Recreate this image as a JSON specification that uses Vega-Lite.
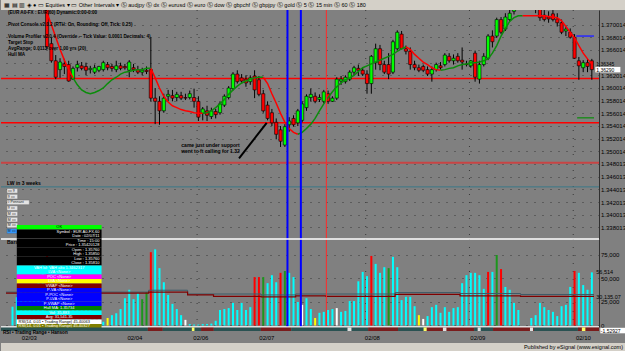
{
"$schema": "https://vega.github.io/schema/vega-lite/v6.json",
"background": "#808080",
"padding": 0,
"spacing": 0,
"bounds": "flush",
"resolve": {"scale": {"color": "independent", "fill": "independent"}},
"config": {"view": {"stroke": null}, "font": "Liberation Sans", "text": {"font": "Liberation Sans"}},
"datasets": {
"toolbar": [{"t": "▦ ▤ ▥ ◈ ●  ▭ Equities ▾  ▭ Other Intervals ▾  Ⓢ audjpy  Ⓢ dx  Ⓢ eurusd  Ⓢ euro  Ⓢ dow  Ⓢ gbpchf  Ⓢ gbpjpy  Ⓢ gold  Ⓢ 5  Ⓢ 15 min  Ⓢ 60  Ⓢ 180"}],
"status": [{"t": "Published by eSignal (www.esignal.com)"}],
"hdr": [{"ln":0,"t":"(EUR A0-FX : EUR,60) Dynamic:0:00-0:00"},{"ln":2,"t":"Pivot Console v2.0.2 (RTH: On, Rounding: Off, Tick: 0.25)"},{"ln":4,"t":"Volume Profiler v2.0.4 (Override -- Tick Value: 0.0001 Decimals: 4)"},{"ln":5,"t":"Target Stop"},{"ln":6,"t":"AvgRange: 0.0113 over 1.00 yrs (20)"},{"ln":7,"t":"Hull MA"}],
"btns": [{"b":0,"t":"▭ 9","w":"n"},{"b":1,"t":"9 ▭","w":"n"},{"b":2,"t":"◊ Pennant","w":"wide"},{"b":3,"t":"9 ▭","w":"n"},{"b":4,"t":"M ▭","w":"n"},{"b":5,"t":"M ▭","w":"n"},{"b":6,"t":"M ▭","w":"n"},{"b":7,"t":"M ▭","w":"sel"}],
"candles": [
{"i":0,"o":1.3795,"h":1.3802,"l":1.3788,"c":1.3790},{"i":1,"o":1.3790,"h":1.3800,"l":1.3785,"c":1.3797},{"i":2,"o":1.3797,"h":1.3805,"l":1.3790,"c":1.3793},{"i":3,"o":1.3793,"h":1.3799,"l":1.3786,"c":1.3795},{"i":4,"o":1.3795,"h":1.3802,"l":1.3789,"c":1.3791},{"i":5,"o":1.3791,"h":1.3796,"l":1.3780,"c":1.3784},{"i":6,"o":1.3784,"h":1.3790,"l":1.3770,"c":1.3774},{"i":7,"o":1.3774,"h":1.3782,"l":1.3760,"c":1.3765},{"i":8,"o":1.3765,"h":1.3770,"l":1.3745,"c":1.3750},{"i":9,"o":1.3750,"h":1.3755,"l":1.3661,"c":1.3665},
{"i":10,"o":1.3670,"h":1.3680,"l":1.3640,"c":1.3643},{"i":11,"o":1.3643,"h":1.3652,"l":1.3614,"c":1.3617},{"i":12,"o":1.3629,"h":1.3647,"l":1.3616,"c":1.3641},{"i":13,"o":1.3638,"h":1.3646,"l":1.3622,"c":1.3634},{"i":14,"o":1.3637,"h":1.3643,"l":1.3610,"c":1.3611},{"i":15,"o":1.3614,"h":1.3634,"l":1.3613,"c":1.3631},{"i":16,"o":1.3632,"h":1.3643,"l":1.3626,"c":1.3637},{"i":17,"o":1.3635,"h":1.3641,"l":1.3628,"c":1.3631},{"i":18,"o":1.3634,"h":1.3640,"l":1.3620,"c":1.3628},{"i":19,"o":1.3629,"h":1.3635,"l":1.3623,"c":1.3631},
{"i":20,"o":1.3625,"h":1.3637,"l":1.3622,"c":1.3632},{"i":21,"o":1.3628,"h":1.3635,"l":1.3625,"c":1.3634},{"i":22,"o":1.3629,"h":1.3643,"l":1.3626,"c":1.3640},{"i":23,"o":1.3637,"h":1.3641,"l":1.3628,"c":1.3632},{"i":24,"o":1.3634,"h":1.3638,"l":1.3626,"c":1.3631},{"i":25,"o":1.3629,"h":1.3643,"l":1.3625,"c":1.3635},{"i":26,"o":1.3635,"h":1.3640,"l":1.3628,"c":1.3631},{"i":27,"o":1.3634,"h":1.3638,"l":1.3629,"c":1.3632},{"i":28,"o":1.3628,"h":1.3644,"l":1.3617,"c":1.3641},{"i":29,"o":1.3632,"h":1.3638,"l":1.3625,"c":1.3629},
{"i":30,"o":1.3629,"h":1.3635,"l":1.3622,"c":1.3625},{"i":31,"o":1.3625,"h":1.3632,"l":1.3620,"c":1.3628},{"i":32,"o":1.3628,"h":1.3634,"l":1.3622,"c":1.3626},{"i":33,"o":1.3629,"h":1.3680,"l":1.3579,"c":1.3584},{"i":34,"o":1.3584,"h":1.3600,"l":1.3543,"c":1.3579},{"i":35,"o":1.3579,"h":1.3587,"l":1.3542,"c":1.3564},{"i":36,"o":1.3564,"h":1.3591,"l":1.3561,"c":1.3584},{"i":37,"o":1.3587,"h":1.3597,"l":1.3579,"c":1.3590},{"i":38,"o":1.3588,"h":1.3597,"l":1.3579,"c":1.3584},{"i":39,"o":1.3585,"h":1.3594,"l":1.3579,"c":1.3590},
{"i":40,"o":1.3588,"h":1.3594,"l":1.3581,"c":1.3584},{"i":41,"o":1.3585,"h":1.3591,"l":1.3581,"c":1.3584},{"i":42,"o":1.3585,"h":1.3596,"l":1.3582,"c":1.3591},{"i":43,"o":1.3585,"h":1.3599,"l":1.3569,"c":1.3579},{"i":44,"o":1.3579,"h":1.3587,"l":1.3548,"c":1.3554},{"i":45,"o":1.3560,"h":1.3570,"l":1.3549,"c":1.3567},{"i":46,"o":1.3564,"h":1.3572,"l":1.3548,"c":1.3557},{"i":47,"o":1.3555,"h":1.3569,"l":1.3551,"c":1.3564},{"i":48,"o":1.3563,"h":1.3567,"l":1.3552,"c":1.3558},{"i":49,"o":1.3561,"h":1.3579,"l":1.3558,"c":1.3575},
{"i":50,"o":1.3573,"h":1.3590,"l":1.3570,"c":1.3587},{"i":51,"o":1.3585,"h":1.3603,"l":1.3582,"c":1.3600},{"i":52,"o":1.3599,"h":1.3625,"l":1.3596,"c":1.3622},{"i":53,"o":1.3622,"h":1.3628,"l":1.3607,"c":1.3610},{"i":54,"o":1.3616,"h":1.3622,"l":1.3607,"c":1.3611},{"i":55,"o":1.3614,"h":1.3620,"l":1.3602,"c":1.3608},{"i":56,"o":1.3610,"h":1.3620,"l":1.3605,"c":1.3616},{"i":57,"o":1.3619,"h":1.3628,"l":1.3584,"c":1.3597},{"i":58,"o":1.3613,"h":1.3619,"l":1.3587,"c":1.3590},{"i":59,"o":1.3591,"h":1.3597,"l":1.3561,"c":1.3564},
{"i":60,"o":1.3573,"h":1.3579,"l":1.3549,"c":1.3552},{"i":61,"o":1.3561,"h":1.3567,"l":1.3540,"c":1.3545},{"i":62,"o":1.3546,"h":1.3552,"l":1.3519,"c":1.3527},{"i":63,"o":1.3534,"h":1.3540,"l":1.3507,"c":1.3516},{"i":64,"o":1.3510,"h":1.3543,"l":1.3507,"c":1.3539},{"i":65,"o":1.3542,"h":1.3554,"l":1.3531,"c":1.3548},{"i":66,"o":1.3552,"h":1.3557,"l":1.3539,"c":1.3542},{"i":67,"o":1.3545,"h":1.3567,"l":1.3540,"c":1.3564},{"i":68,"o":1.3549,"h":1.3579,"l":1.3546,"c":1.3575},{"i":69,"o":1.3569,"h":1.3590,"l":1.3564,"c":1.3587},
{"i":70,"o":1.3585,"h":1.3599,"l":1.3579,"c":1.3590},{"i":71,"o":1.3587,"h":1.3593,"l":1.3576,"c":1.3579},{"i":72,"o":1.3582,"h":1.3590,"l":1.3578,"c":1.3585},{"i":73,"o":1.3579,"h":1.3597,"l":1.3576,"c":1.3594},{"i":74,"o":1.3591,"h":1.3596,"l":1.3575,"c":1.3579},{"i":75,"o":1.3579,"h":1.3587,"l":1.3578,"c":1.3584},{"i":76,"o":1.3584,"h":1.3617,"l":1.3581,"c":1.3614},{"i":77,"o":1.3611,"h":1.3619,"l":1.3605,"c":1.3614},{"i":78,"o":1.3610,"h":1.3620,"l":1.3607,"c":1.3617},{"i":79,"o":1.3614,"h":1.3628,"l":1.3611,"c":1.3625},
{"i":80,"o":1.3625,"h":1.3635,"l":1.3620,"c":1.3632},{"i":81,"o":1.3631,"h":1.3637,"l":1.3619,"c":1.3628},{"i":82,"o":1.3628,"h":1.3632,"l":1.3619,"c":1.3622},{"i":83,"o":1.3622,"h":1.3628,"l":1.3591,"c":1.3607},{"i":84,"o":1.3607,"h":1.3652,"l":1.3591,"c":1.3650},{"i":85,"o":1.3640,"h":1.3670,"l":1.3629,"c":1.3662},{"i":86,"o":1.3662,"h":1.3668,"l":1.3628,"c":1.3637},{"i":87,"o":1.3637,"h":1.3643,"l":1.3622,"c":1.3625},{"i":88,"o":1.3637,"h":1.3655,"l":1.3614,"c":1.3622},{"i":89,"o":1.3625,"h":1.3676,"l":1.3622,"c":1.3673},
{"i":90,"o":1.3662,"h":1.3691,"l":1.3659,"c":1.3688},{"i":91,"o":1.3685,"h":1.3690,"l":1.3661,"c":1.3662},{"i":92,"o":1.3662,"h":1.3667,"l":1.3653,"c":1.3658},{"i":93,"o":1.3658,"h":1.3664,"l":1.3629,"c":1.3637},{"i":94,"o":1.3637,"h":1.3643,"l":1.3628,"c":1.3632},{"i":95,"o":1.3632,"h":1.3637,"l":1.3625,"c":1.3628},{"i":96,"o":1.3634,"h":1.3637,"l":1.3625,"c":1.3628},{"i":97,"o":1.3629,"h":1.3634,"l":1.3619,"c":1.3622},{"i":98,"o":1.3622,"h":1.3634,"l":1.3610,"c":1.3629},{"i":99,"o":1.3629,"h":1.3640,"l":1.3626,"c":1.3637},
{"i":100,"o":1.3635,"h":1.3641,"l":1.3629,"c":1.3632},{"i":101,"o":1.3637,"h":1.3655,"l":1.3634,"c":1.3652},{"i":102,"o":1.3650,"h":1.3655,"l":1.3640,"c":1.3643},{"i":103,"o":1.3643,"h":1.3653,"l":1.3637,"c":1.3647},{"i":104,"o":1.3650,"h":1.3655,"l":1.3640,"c":1.3643},{"i":105,"o":1.3644,"h":1.3664,"l":1.3629,"c":1.3641},{"i":106,"o":1.3638,"h":1.3643,"l":1.3634,"c":1.3637},{"i":107,"o":1.3635,"h":1.3644,"l":1.3632,"c":1.3643},{"i":108,"o":1.3655,"h":1.3659,"l":1.3610,"c":1.3617},{"i":109,"o":1.3614,"h":1.3643,"l":1.3607,"c":1.3637},
{"i":110,"o":1.3637,"h":1.3655,"l":1.3634,"c":1.3650},{"i":111,"o":1.3647,"h":1.3685,"l":1.3644,"c":1.3682},{"i":112,"o":1.3682,"h":1.3691,"l":1.3664,"c":1.3673},{"i":113,"o":1.3682,"h":1.3711,"l":1.3679,"c":1.3708},{"i":114,"o":1.3708,"h":1.3712,"l":1.3685,"c":1.3688},{"i":115,"o":1.3693,"h":1.3718,"l":1.3690,"c":1.3712},{"i":116,"o":1.3708,"h":1.3727,"l":1.3705,"c":1.3718},{"i":117,"o":1.3721,"h":1.3739,"l":1.3716,"c":1.3735},{"i":118,"o":1.3735,"h":1.3745,"l":1.3724,"c":1.3739},{"i":119,"o":1.3739,"h":1.3748,"l":1.3730,"c":1.3733},
{"i":120,"o":1.3735,"h":1.3745,"l":1.3727,"c":1.3742},{"i":121,"o":1.3742,"h":1.3748,"l":1.3726,"c":1.3730},{"i":122,"o":1.3730,"h":1.3738,"l":1.3718,"c":1.3726},{"i":123,"o":1.3727,"h":1.3733,"l":1.3706,"c":1.3711},{"i":124,"o":1.3715,"h":1.3723,"l":1.3705,"c":1.3708},{"i":125,"o":1.3712,"h":1.3721,"l":1.3703,"c":1.3709},{"i":126,"o":1.3717,"h":1.3723,"l":1.3705,"c":1.3708},{"i":127,"o":1.3709,"h":1.3718,"l":1.3697,"c":1.3703},{"i":128,"o":1.3703,"h":1.3708,"l":1.3685,"c":1.3688},{"i":129,"o":1.3690,"h":1.3697,"l":1.3682,"c":1.3693},
{"i":130,"o":1.3688,"h":1.3694,"l":1.3678,"c":1.3680},{"i":131,"o":1.3680,"h":1.3685,"l":1.3646,"c":1.3647},{"i":132,"o":1.3643,"h":1.3649,"l":1.3613,"c":1.3635},{"i":133,"o":1.3632,"h":1.3644,"l":1.3625,"c":1.3640},{"i":134,"o":1.3640,"h":1.3646,"l":1.3625,"c":1.3634},{"i":135,"o":1.3643,"h":1.3646,"l":1.3613,"c":1.3629}
],
"ma": [
{"i":8,"p":1.3745,"s":1,"d":"down"},{"i":9,"p":1.3718,"s":1,"d":"down"},{"i":10,"p":1.3700,"s":1,"d":"down"},{"i":11,"p":1.3680,"s":1,"d":"down"},{"i":12,"p":1.3661,"s":1,"d":"down"},{"i":13,"p":1.3644,"s":1,"d":"down"},{"i":14,"p":1.3629,"s":1,"d":"down"},{"i":15,"p":1.3616,"s":1,"d":"down"},
{"i":15,"p":1.3616,"s":2,"d":"up"},{"i":16,"p":1.3605,"s":2,"d":"up"},{"i":17,"p":1.3597,"s":2,"d":"up"},{"i":18,"p":1.3593,"s":2,"d":"up"},{"i":19,"p":1.3591,"s":2,"d":"up"},{"i":20,"p":1.3593,"s":2,"d":"up"},{"i":21,"p":1.3596,"s":2,"d":"up"},{"i":22,"p":1.3600,"s":2,"d":"up"},{"i":23,"p":1.3607,"s":2,"d":"up"},{"i":24,"p":1.3613,"s":2,"d":"up"},{"i":25,"p":1.3617,"s":2,"d":"up"},{"i":26,"p":1.3622,"s":2,"d":"up"},{"i":27,"p":1.3625,"s":2,"d":"up"},{"i":28,"p":1.3626,"s":2,"d":"up"},{"i":29,"p":1.3628,"s":2,"d":"up"},{"i":30,"p":1.3629,"s":2,"d":"up"},{"i":31,"p":1.3629,"s":2,"d":"up"},{"i":32,"p":1.3631,"s":2,"d":"up"},{"i":33,"p":1.3631,"s":2,"d":"up"},
{"i":33,"p":1.3631,"s":3,"d":"down"},{"i":34,"p":1.3616,"s":3,"d":"down"},{"i":35,"p":1.3600,"s":3,"d":"down"},{"i":36,"p":1.3587,"s":3,"d":"down"},{"i":37,"p":1.3578,"s":3,"d":"down"},{"i":38,"p":1.3572,"s":3,"d":"down"},{"i":39,"p":1.3569,"s":3,"d":"down"},{"i":40,"p":1.3566,"s":3,"d":"down"},{"i":41,"p":1.3564,"s":3,"d":"down"},{"i":42,"p":1.3563,"s":3,"d":"down"},{"i":43,"p":1.3561,"s":3,"d":"down"},{"i":44,"p":1.3560,"s":3,"d":"down"},{"i":45,"p":1.3560,"s":3,"d":"down"},
{"i":45,"p":1.3560,"s":4,"d":"up"},{"i":46,"p":1.3561,"s":4,"d":"up"},{"i":47,"p":1.3564,"s":4,"d":"up"},{"i":48,"p":1.3569,"s":4,"d":"up"},{"i":49,"p":1.3575,"s":4,"d":"up"},{"i":50,"p":1.3582,"s":4,"d":"up"},{"i":51,"p":1.3590,"s":4,"d":"up"},{"i":52,"p":1.3597,"s":4,"d":"up"},{"i":53,"p":1.3603,"s":4,"d":"up"},{"i":54,"p":1.3608,"s":4,"d":"up"},{"i":55,"p":1.3611,"s":4,"d":"up"},{"i":56,"p":1.3614,"s":4,"d":"up"},{"i":57,"p":1.3616,"s":4,"d":"up"},{"i":58,"p":1.3617,"s":4,"d":"up"},{"i":59,"p":1.3617,"s":4,"d":"up"},
{"i":59,"p":1.3617,"s":5,"d":"down"},{"i":60,"p":1.3607,"s":5,"d":"down"},{"i":61,"p":1.3591,"s":5,"d":"down"},{"i":62,"p":1.3576,"s":5,"d":"down"},{"i":63,"p":1.3560,"s":5,"d":"down"},{"i":64,"p":1.3546,"s":5,"d":"down"},{"i":65,"p":1.3536,"s":5,"d":"down"},{"i":66,"p":1.3530,"s":5,"d":"down"},{"i":67,"p":1.3527,"s":5,"d":"down"},
{"i":67,"p":1.3527,"s":6,"d":"up"},{"i":68,"p":1.3530,"s":6,"d":"up"},{"i":69,"p":1.3536,"s":6,"d":"up"},{"i":70,"p":1.3543,"s":6,"d":"up"},{"i":71,"p":1.3552,"s":6,"d":"up"},{"i":72,"p":1.3564,"s":6,"d":"up"},{"i":73,"p":1.3575,"s":6,"d":"up"},{"i":74,"p":1.3585,"s":6,"d":"up"},{"i":75,"p":1.3594,"s":6,"d":"up"},{"i":76,"p":1.3602,"s":6,"d":"up"},{"i":77,"p":1.3608,"s":6,"d":"up"},{"i":78,"p":1.3613,"s":6,"d":"up"},{"i":79,"p":1.3616,"s":6,"d":"up"},{"i":80,"p":1.3620,"s":6,"d":"up"},{"i":81,"p":1.3626,"s":6,"d":"up"},{"i":82,"p":1.3632,"s":6,"d":"up"},{"i":83,"p":1.3635,"s":6,"d":"up"},{"i":84,"p":1.3638,"s":6,"d":"up"},{"i":85,"p":1.3641,"s":6,"d":"up"},{"i":86,"p":1.3644,"s":6,"d":"up"},{"i":87,"p":1.3647,"s":6,"d":"up"},{"i":88,"p":1.3650,"s":6,"d":"up"},{"i":89,"p":1.3653,"s":6,"d":"up"},{"i":90,"p":1.3658,"s":6,"d":"up"},{"i":91,"p":1.3662,"s":6,"d":"up"},{"i":92,"p":1.3665,"s":6,"d":"up"},
{"i":92,"p":1.3665,"s":7,"d":"down"},{"i":93,"p":1.3661,"s":7,"d":"down"},{"i":94,"p":1.3653,"s":7,"d":"down"},{"i":95,"p":1.3647,"s":7,"d":"down"},{"i":96,"p":1.3641,"s":7,"d":"down"},{"i":97,"p":1.3637,"s":7,"d":"down"},{"i":98,"p":1.3632,"s":7,"d":"down"},{"i":99,"p":1.3629,"s":7,"d":"down"},{"i":100,"p":1.3628,"s":7,"d":"down"},
{"i":100,"p":1.3628,"s":8,"d":"up"},{"i":101,"p":1.3629,"s":8,"d":"up"},{"i":102,"p":1.3631,"s":8,"d":"up"},{"i":103,"p":1.3632,"s":8,"d":"up"},{"i":104,"p":1.3635,"s":8,"d":"up"},{"i":105,"p":1.3637,"s":8,"d":"up"},{"i":106,"p":1.3638,"s":8,"d":"up"},{"i":107,"p":1.3640,"s":8,"d":"up"},{"i":108,"p":1.3640,"s":8,"d":"up"},{"i":109,"p":1.3641,"s":8,"d":"up"},{"i":110,"p":1.3643,"s":8,"d":"up"},{"i":111,"p":1.3646,"s":8,"d":"up"},{"i":112,"p":1.3655,"s":8,"d":"up"},{"i":113,"p":1.3667,"s":8,"d":"up"},{"i":114,"p":1.3682,"s":8,"d":"up"},{"i":115,"p":1.3694,"s":8,"d":"up"},{"i":116,"p":1.3705,"s":8,"d":"up"},{"i":117,"p":1.3711,"s":8,"d":"up"},{"i":118,"p":1.3714,"s":8,"d":"up"},{"i":119,"p":1.3714,"s":8,"d":"up"},
{"i":119,"p":1.3714,"s":9,"d":"down"},{"i":120,"p":1.3714,"s":9,"d":"down"},{"i":121,"p":1.3714,"s":9,"d":"down"},{"i":122,"p":1.3714,"s":9,"d":"down"},{"i":123,"p":1.3714,"s":9,"d":"down"},{"i":124,"p":1.3714,"s":9,"d":"down"},{"i":125,"p":1.3713,"s":9,"d":"down"},{"i":126,"p":1.3712,"s":9,"d":"down"},{"i":127,"p":1.3711,"s":9,"d":"down"},{"i":128,"p":1.3706,"s":9,"d":"down"},{"i":129,"p":1.3697,"s":9,"d":"down"},{"i":130,"p":1.3688,"s":9,"d":"down"},{"i":131,"p":1.3679,"s":9,"d":"down"},{"i":132,"p":1.3667,"s":9,"d":"down"},{"i":133,"p":1.3655,"s":9,"d":"down"},{"i":134,"p":1.3646,"s":9,"d":"down"},{"i":135,"p":1.3638,"s":9,"d":"down"}
],
"hl": [{"p":1.3615,"k":"R1"},{"p":1.3545,"k":"S1"},{"p":1.3482,"k":"S2"},{"p":1.3444,"k":"L3W"}],
"short": [{"a":131.4,"b":135.5,"p":1.3682,"k":"hi"},{"a":131.6,"b":135.5,"p":1.3553,"k":"lo"}],
"vl": [{"i":64.6,"k":"blue"},{"i":67.7,"k":"blue"},{"i":73.6,"k":"red"}],
"vgrid": [{"i":43.7},{"i":82.7},{"i":106.7},{"i":130.7}],
"arrow": [{"i0":53.4,"p0":1.3489,"i1":59.8,"p1":1.3545}],
"notes": [{"i":46.8,"p":1.3510,"t":"came just under support"},{"i":46.8,"p":1.3501,"t":"went to ft calling for 1.32"}],
"lbl": [{"i":-0.5,"p":1.3445,"t":"LW in 3 weeks"}],
"lastp": [{"p":1.3629,"t":"1.36290"}],
"markp": [{"p":1.36345,"t":"1.36345"}],
"vol": [
{"i":1,"v":20000,"k":"c"},{"i":2,"v":30000,"k":"c"},{"i":3,"v":42000,"k":"c"},{"i":4,"v":38000,"k":"c"},{"i":5,"v":35000,"k":"c"},{"i":6,"v":40000,"k":"c"},{"i":7,"v":52000,"k":"c"},{"i":8,"v":66000,"k":"c"},{"i":9,"v":80000,"k":"r"},{"i":10,"v":70000,"k":"c"},{"i":11,"v":55000,"k":"c"},{"i":12,"v":45000,"k":"c"},{"i":13,"v":35000,"k":"c"},{"i":14,"v":32000,"k":"c"},{"i":15,"v":28000,"k":"c"},{"i":16,"v":25000,"k":"c"},{"i":17,"v":22000,"k":"c"},{"i":18,"v":20000,"k":"c"},{"i":19,"v":18000,"k":"c"},{"i":20,"v":15000,"k":"c"},{"i":21,"v":12000,"k":"c"},
{"i":22,"v":4000,"k":"c"},{"i":23,"v":8000,"k":"y"},{"i":24,"v":11000,"k":"c"},{"i":25,"v":13000,"k":"c"},{"i":26,"v":17500,"k":"c"},{"i":27,"v":29000,"k":"c"},{"i":28,"v":38000,"k":"c"},{"i":29,"v":28000,"k":"c"},{"i":30,"v":34500,"k":"c"},{"i":31,"v":28000,"k":"g"},{"i":32,"v":35500,"k":"g"},{"i":33,"v":78000,"k":"r"},{"i":34,"v":81000,"k":"c"},{"i":35,"v":61000,"k":"c"},{"i":36,"v":46000,"k":"c"},{"i":37,"v":32500,"k":"c"},{"i":38,"v":23000,"k":"c"},{"i":39,"v":17500,"k":"c"},{"i":40,"v":11000,"k":"c"},{"i":41,"v":6000,"k":"w"},
{"i":42,"v":1500,"k":"c"},{"i":43,"v":1000,"k":"c"},{"i":44,"v":1000,"k":"c"},{"i":45,"v":1500,"k":"c"},{"i":46,"v":1500,"k":"c"},{"i":47,"v":2000,"k":"c"},{"i":48,"v":5000,"k":"c"},{"i":49,"v":16500,"k":"c"},{"i":50,"v":17500,"k":"c"},{"i":51,"v":18500,"k":"c"},{"i":52,"v":24000,"k":"c"},{"i":53,"v":16500,"k":"c"},{"i":54,"v":24000,"k":"c"},{"i":55,"v":16500,"k":"c"},{"i":56,"v":19500,"k":"c"},{"i":57,"v":51500,"k":"r"},{"i":58,"v":51500,"k":"r"},{"i":59,"v":51500,"k":"g"},
{"i":60,"v":45000,"k":"c"},{"i":61,"v":53500,"k":"c"},{"i":62,"v":46000,"k":"c"},{"i":63,"v":56000,"k":"r"},{"i":64,"v":58000,"k":"g"},{"i":65,"v":56000,"k":"c"},{"i":66,"v":51500,"k":"c"},{"i":67,"v":25000,"k":"c"},{"i":68,"v":22000,"k":"w"},{"i":69,"v":29000,"k":"c"},{"i":70,"v":17500,"k":"c"},{"i":71,"v":8000,"k":"y"},{"i":72,"v":13500,"k":"c"},{"i":73,"v":14500,"k":"c"},{"i":74,"v":16500,"k":"c"},{"i":75,"v":17500,"k":"c"},{"i":76,"v":18500,"k":"w"},{"i":77,"v":14500,"k":"c"},{"i":78,"v":15500,"k":"c"},{"i":79,"v":26000,"k":"c"},
{"i":80,"v":26000,"k":"c"},{"i":81,"v":47000,"k":"c"},{"i":82,"v":57000,"k":"c"},{"i":83,"v":52500,"k":"c"},{"i":84,"v":74000,"k":"r"},{"i":85,"v":65500,"k":"c"},{"i":86,"v":56000,"k":"c"},{"i":87,"v":62000,"k":"c"},{"i":88,"v":61000,"k":"g"},{"i":89,"v":73000,"k":"c"},{"i":90,"v":62000,"k":"c"},{"i":91,"v":27000,"k":"c"},{"i":92,"v":30500,"k":"c"},{"i":93,"v":30500,"k":"c"},{"i":94,"v":20500,"k":"c"},{"i":95,"v":11000,"k":"y"},{"i":96,"v":7000,"k":"w"},{"i":97,"v":10000,"k":"c"},{"i":98,"v":19500,"k":"c"},{"i":99,"v":22000,"k":"c"},
{"i":100,"v":13500,"k":"c"},{"i":101,"v":19500,"k":"c"},{"i":102,"v":14500,"k":"c"},{"i":103,"v":18500,"k":"c"},{"i":104,"v":19500,"k":"c"},{"i":105,"v":45000,"k":"c"},{"i":106,"v":53500,"k":"c"},{"i":107,"v":56000,"k":"c"},{"i":108,"v":56000,"k":"c"},{"i":109,"v":53500,"k":"c"},{"i":110,"v":39000,"k":"c"},{"i":111,"v":57000,"k":"r"},{"i":112,"v":57000,"k":"c"},{"i":113,"v":75000,"k":"g"},{"i":114,"v":60000,"k":"r"},{"i":115,"v":41000,"k":"c"},{"i":116,"v":38000,"k":"c"},{"i":117,"v":24000,"k":"c"},{"i":118,"v":16500,"k":"c"},
{"i":121,"v":8000,"k":"c"},{"i":122,"v":11000,"k":"c"},{"i":123,"v":24000,"k":"c"},{"i":124,"v":19500,"k":"c"},{"i":125,"v":16500,"k":"c"},{"i":126,"v":14500,"k":"c"},{"i":127,"v":10000,"k":"c"},{"i":128,"v":20500,"k":"c"},{"i":129,"v":22000,"k":"c"},{"i":130,"v":41000,"k":"c"},{"i":131,"v":58000,"k":"r"},{"i":132,"v":56000,"k":"c"},{"i":133,"v":43000,"k":"c"},{"i":134,"v":38000,"k":"c"},{"i":135,"v":56514,"k":"c"}
],
"vavg": [
{"i":-0.5,"v":34500,"s":"avg"},{"i":32.5,"v":35500,"s":"avg"},{"i":41.5,"v":32500,"s":"avg"},{"i":47.5,"v":31000,"s":"avg"},{"i":58.5,"v":30500,"s":"avg"},{"i":66.5,"v":31500,"s":"avg"},{"i":73.5,"v":31000,"s":"avg"},{"i":89.5,"v":33000,"s":"avg"},{"i":104.5,"v":31500,"s":"avg"},{"i":118.5,"v":31000,"s":"avg"},{"i":135.5,"v":31000,"s":"avg"},
{"i":-0.5,"v":35500,"s":"alt"},{"i":32.5,"v":37500,"s":"alt"},{"i":41.5,"v":33500,"s":"alt"},{"i":58.5,"v":32500,"s":"alt"},{"i":66.5,"v":33500,"s":"alt"},{"i":89.5,"v":35000,"s":"alt"},{"i":104.5,"v":34000,"s":"alt"},{"i":118.5,"v":33000,"s":"alt"},{"i":135.5,"v":33000,"s":"alt"}
],
"vlab": [{"v":56514,"t":"56,514"},{"v":30135.07,"t":"30,135.07"}],
"bars": [{"t":"Bars"}],
"info": [
{"r":0,"k":"hdr","t":"OK"},{"r":1,"k":"blk","t":"Symbol : EUR A0-FX,60"},{"r":2,"k":"blk","t":"Date : 02/07/11"},{"r":3,"k":"blk","t":"Time : 15:00"},{"r":4,"k":"blk","t":"Price : 1.35420128"},{"r":5,"k":"blk","t":"Open : 1.35760"},{"r":6,"k":"blk","t":"High : 1.35850"},{"r":7,"k":"blk","t":"Low : 1.35760"},{"r":8,"k":"blk","t":"Close : 1.35810"},
{"r":9,"k":"cyan","t":"VAH lvl: VAH alto 1.3462317"},{"r":10,"k":"cyan","t":"LVA <None>"},{"r":11,"k":"mag","t":"POC <None>"},{"r":12,"k":"yel","t":"LVA <None>"},{"r":13,"k":"mar","t":"VWAP <None>"},{"r":14,"k":"blu","t":"P-VA <None>"},{"r":15,"k":"blu","t":"P-POC <None>"},{"r":16,"k":"blu","t":"P-LVA <None>"},{"r":17,"k":"blu","t":"P-VWAP <None>"},{"r":18,"k":"grn","t":"Hull MA: 1.35734"},{"r":19,"k":"cyan","t":"Vol: 35,883"},{"r":20,"k":"mar","t":"Avg: 31,541.35"},{"r":21,"k":"wht","t":"RSI(14, 0.01 • Trading Range) 45.40063"},{"r":22,"k":"olv","t":"RSI(14, 0.01 • Trading Range) 45.40327"}
],
"strip": [
{"a":-0.5,"b":32.9,"k":"t"},{"a":32.9,"b":36.3,"k":"m"},{"a":36.3,"b":45.0,"k":"t"},{"a":45.0,"b":47.9,"k":"m"},{"a":47.9,"b":58.6,"k":"t"},{"a":58.6,"b":65.5,"k":"m"},{"a":65.5,"b":83.0,"k":"t"},{"a":83.0,"b":89.8,"k":"m"},{"a":89.8,"b":96.2,"k":"t"},{"a":96.2,"b":107.1,"k":"m"},{"a":107.1,"b":111.4,"k":"t"},{"a":111.4,"b":120.7,"k":"m"},{"a":120.7,"b":130.7,"k":"t"},{"a":130.7,"b":135.5,"k":"m"},
{"a":42.9,"b":43.5,"k":"y"},{"a":78.3,"b":79.2,"k":"w"},{"a":95.6,"b":96.3,"k":"y"},{"a":100.0,"b":100.8,"k":"w"},{"a":107.9,"b":108.6,"k":"w"},{"a":119.8,"b":120.5,"k":"w"},{"a":131.6,"b":132.4,"k":"y"}
],
"rsi": [{"t":"RSI • Trading Range • Hanson"}],
"rsiv": [{"t":"-1.52927"}]
},
"vconcat": [
{
"width": 625, "height": 10,
"view": {"fill": "#d4d0c8", "stroke": null},
"data": {"name": "toolbar"},
"mark": {"type": "text", "align": "left", "baseline": "middle", "fontSize": 5.5, "color": "#000000", "dx": 3},
"encoding": {
"x": {"datum": 0, "type": "quantitative", "scale": {"domain": [0, 1]}, "axis": null},
"y": {"datum": 0.5, "type": "quantitative", "scale": {"domain": [0, 1]}, "axis": null},
"text": {"field": "t"}
}
},
{
"width": 598, "height": 229,
"layer": [
{
"layer": [
{"data": {"name": "vgrid"}, "mark": {"type": "rule", "color": "#383838", "strokeDash": [1, 7], "strokeWidth": 1},
 "encoding": {"x": {"field": "i", "type": "quantitative", "scale": {"domain": [-0.5, 135.5], "nice": false, "zero": false}, "axis": null}}},
{"data": {"name": "hl"}, "transform": [{"filter": "datum.k == 'R1' || datum.k == 'S1'"}], "mark": {"type": "rule", "color": "#ff0000", "strokeWidth": 1.5},
 "encoding": {"y": {"field": "p", "type": "quantitative", "scale": {"domain": [1.336965, 1.371521], "nice": false, "zero": false},
  "axis": {"orient": "right", "values": [1.338013,1.340013,1.342013,1.344013,1.346013,1.348013,1.350014,1.352014,1.354014,1.356014,1.358014,1.360014,1.362014,1.364014,1.366014,1.368014,1.370014], "tickCount": 40, "labelExpr": "abs(datum.value - 1.364014) < 0.0003 ? '' : format(datum.value, '.6f')", "labelFontSize": 6, "labelColor": "#000000", "labelPadding": 1.5, "ticks": false, "domain": true, "domainColor": "#303030", "grid": true, "gridColor": "#383838", "gridDash": [1, 7], "gridWidth": 1, "title": null, "labelAlign": "left", "labelOverlap": false, "labelBound": false}}}},
{"data": {"name": "hl"}, "transform": [{"filter": "datum.k == 'S2'"}], "mark": {"type": "rule", "color": "#c84444", "strokeWidth": 2},
 "encoding": {"y": {"field": "p", "type": "quantitative"}}},
{"data": {"name": "hl"}, "transform": [{"filter": "datum.k == 'L3W'"}], "mark": {"type": "rule", "color": "#3a7888", "strokeWidth": 1},
 "encoding": {"y": {"field": "p", "type": "quantitative"}}},
{"data": {"name": "short"}, "transform": [{"filter": "datum.k == 'hi'"}], "mark": {"type": "rule", "color": "#2828ff", "strokeWidth": 1.5},
 "encoding": {"x": {"field": "a", "type": "quantitative"}, "x2": {"field": "b"}, "y": {"field": "p", "type": "quantitative"}}},
{"data": {"name": "short"}, "transform": [{"filter": "datum.k == 'lo'"}], "mark": {"type": "rule", "color": "#208a20", "strokeWidth": 1.5},
 "encoding": {"x": {"field": "a", "type": "quantitative"}, "x2": {"field": "b"}, "y": {"field": "p", "type": "quantitative"}}},
{"data": {"name": "candles"}, "mark": {"type": "rule", "color": "#000000", "strokeWidth": 1, "clip": true},
 "encoding": {"x": {"field": "i", "type": "quantitative"}, "y": {"field": "l", "type": "quantitative"}, "y2": {"field": "h"}}},
{"data": {"name": "candles"}, "mark": {"type": "bar", "size": 3.2, "stroke": "#000000", "strokeWidth": 0.6, "clip": true},
 "encoding": {"x": {"field": "i", "type": "quantitative"}, "y": {"field": "o", "type": "quantitative"}, "y2": {"field": "c"},
  "fill": {"condition": {"test": "datum.c >= datum.o", "value": "#00ff00"}, "value": "#ff0000"}}},
{"data": {"name": "ma"}, "mark": {"type": "line", "strokeWidth": 1.5, "clip": true},
 "encoding": {"x": {"field": "i", "type": "quantitative"}, "y": {"field": "p", "type": "quantitative"}, "detail": {"field": "s"},
  "color": {"field": "d", "type": "nominal", "scale": {"domain": ["up", "down"], "range": ["#0c8c0c", "#ff0000"]}, "legend": null}}},
{"data": {"name": "vl"}, "transform": [{"filter": "datum.k == 'blue'"}], "mark": {"type": "rule", "color": "#0000ff", "strokeWidth": 2},
 "encoding": {"x": {"field": "i", "type": "quantitative"}}},
{"data": {"name": "vl"}, "transform": [{"filter": "datum.k == 'red'"}], "mark": {"type": "rule", "color": "#ff2a2a", "strokeWidth": 1},
 "encoding": {"x": {"field": "i", "type": "quantitative"}}},
{"data": {"name": "arrow"}, "mark": {"type": "rule", "color": "#000000", "strokeWidth": 2},
 "encoding": {"x": {"field": "i0", "type": "quantitative"}, "x2": {"field": "i1"}, "y": {"field": "p0", "type": "quantitative"}, "y2": {"field": "p1"}}},
{"data": {"name": "notes"}, "mark": {"type": "text", "fontSize": 5, "fontWeight": "bold", "color": "#000000", "align": "center", "baseline": "middle"},
 "encoding": {"x": {"field": "i", "type": "quantitative"}, "y": {"field": "p", "type": "quantitative"}, "text": {"field": "t"}}},
{"data": {"name": "lbl"}, "mark": {"type": "text", "fontSize": 5, "fontWeight": "bold", "color": "#000000", "align": "left", "baseline": "bottom", "dx": 1},
 "encoding": {"x": {"field": "i", "type": "quantitative"}, "y": {"field": "p", "type": "quantitative"}, "text": {"field": "t"}}},
{"data": {"name": "lastp"}, "mark": {"type": "bar", "size": 5.5, "color": "#ffffff"},
 "encoding": {"x": {"datum": 135.8, "type": "quantitative"}, "x2": {"datum": 141.6}, "y": {"field": "p", "type": "quantitative"}}},
{"data": {"name": "lastp"}, "mark": {"type": "text", "fontSize": 5, "color": "#000000", "align": "left", "baseline": "middle", "dx": 1},
 "encoding": {"x": {"datum": 135.8, "type": "quantitative"}, "y": {"field": "p", "type": "quantitative"}, "text": {"field": "t"}}},
{"data": {"name": "markp"}, "mark": {"type": "text", "fontSize": 5, "color": "#000000", "align": "left", "baseline": "bottom", "dx": 1, "dy": 0.5},
 "encoding": {"x": {"datum": 135.8, "type": "quantitative"}, "y": {"field": "p", "type": "quantitative"}, "text": {"field": "t"}}}
]
},
{"data": {"name": "hdr"}, "mark": {"type": "text", "align": "left", "baseline": "middle", "fontSize": 4.6, "fontWeight": "bold", "color": "#000000", "dx": 2},
 "encoding": {"x": {"datum": -0.5, "type": "quantitative"}, "y": {"field": "ln", "type": "quantitative", "scale": {"domain": [-0.5, 37.67], "reverse": true, "nice": false, "zero": false}, "axis": null}, "text": {"field": "t"}}},
{
"layer": [
{"data": {"name": "btns"}, "transform": [{"filter": "datum.w == 'n'"}], "mark": {"type": "rect", "color": "#e4e4e4", "stroke": "#606060", "strokeWidth": 0.4},
 "encoding": {"x": {"datum": -0.3, "type": "quantitative"}, "x2": {"datum": 2.2},
  "y": {"field": "b", "type": "ordinal", "scale": {"domain": [0,1,2,3,4,5,6,7], "range": [178, 224], "paddingInner": 0.2, "paddingOuter": 0.1}, "axis": null}}},
{"data": {"name": "btns"}, "transform": [{"filter": "datum.w == 'wide'"}], "mark": {"type": "rect", "color": "#e4e4e4", "stroke": "#606060", "strokeWidth": 0.4},
 "encoding": {"x": {"datum": -0.3, "type": "quantitative"}, "x2": {"datum": 4.9}, "y": {"field": "b", "type": "ordinal"}}},
{"data": {"name": "btns"}, "transform": [{"filter": "datum.w == 'sel'"}], "mark": {"type": "rect", "color": "#3399ff", "stroke": "#606060", "strokeWidth": 0.4},
 "encoding": {"x": {"datum": -0.3, "type": "quantitative"}, "x2": {"datum": 2.2}, "y": {"field": "b", "type": "ordinal"}}},
{"data": {"name": "btns"}, "mark": {"type": "text", "fontSize": 3.5, "color": "#202020", "align": "left", "baseline": "middle", "dx": 1},
 "encoding": {"x": {"datum": -0.3, "type": "quantitative"}, "y": {"field": "b", "type": "ordinal"}, "text": {"field": "t"}}}
]
}
],
"resolve": {"scale": {"y": "independent"}, "axis": {"y": "independent"}}
},
{
"width": 598, "height": 88,
"layer": [
{
"layer": [
{"data": {"name": "vgrid"}, "mark": {"type": "rule", "color": "#383838", "strokeDash": [1, 7], "strokeWidth": 1},
 "encoding": {"x": {"field": "i", "type": "quantitative", "scale": {"domain": [-0.5, 135.5], "nice": false, "zero": false}, "axis": null}}},
{"data": {"name": "vol"}, "mark": {"type": "bar", "size": 2},
 "encoding": {"x": {"field": "i", "type": "quantitative"},
  "y": {"field": "v", "type": "quantitative", "stack": null, "scale": {"domain": [-1600, 92000], "nice": false, "zero": false},
   "axis": {"orient": "right", "values": [0, 25000, 50000, 75000], "tickCount": 20, "labelExpr": "format(datum.value, ',')", "labelFontSize": 6, "labelColor": "#000000", "labelPadding": 1.5, "ticks": false, "domain": true, "domainColor": "#303030", "grid": true, "gridColor": "#383838", "gridDash": [1, 7], "title": null, "labelAlign": "left", "labelOverlap": false, "labelBound": false}},
  "color": {"field": "k", "type": "nominal", "scale": {"domain": ["c", "r", "g", "w", "y"], "range": ["#00ffff", "#ff0000", "#1c961c", "#ffffff", "#ffff00"]}, "legend": null}}},
{"data": {"name": "vavg"}, "transform": [{"filter": "datum.s == 'alt'"}], "mark": {"type": "line", "interpolate": "step-after", "color": "#3c5a66", "strokeWidth": 1},
 "encoding": {"x": {"field": "i", "type": "quantitative"}, "y": {"field": "v", "type": "quantitative"}}},
{"data": {"name": "vavg"}, "transform": [{"filter": "datum.s == 'avg'"}], "mark": {"type": "line", "interpolate": "step-after", "color": "#800000", "strokeWidth": 1.2},
 "encoding": {"x": {"field": "i", "type": "quantitative"}, "y": {"field": "v", "type": "quantitative"}}},
{"data": {"name": "vl"}, "transform": [{"filter": "datum.k == 'blue'"}], "mark": {"type": "rule", "color": "#0000ff", "strokeWidth": 2},
 "encoding": {"x": {"field": "i", "type": "quantitative"}}},
{"data": {"name": "vl"}, "transform": [{"filter": "datum.k == 'red'"}], "mark": {"type": "rule", "color": "#ff2a2a", "strokeWidth": 1},
 "encoding": {"x": {"field": "i", "type": "quantitative"}}},
{"data": {"name": "bars"}, "mark": {"type": "rule", "color": "#ffffff", "strokeWidth": 1.5},
 "encoding": {"y": {"datum": 92000, "type": "quantitative"}}},
{"data": {"name": "bars"}, "mark": {"type": "rule", "color": "#ffffff", "strokeWidth": 1.5},
 "encoding": {"y": {"datum": -1600, "type": "quantitative"}}},
{"data": {"name": "bars"}, "mark": {"type": "text", "fontSize": 5, "fontWeight": "bold", "color": "#000000", "align": "left", "baseline": "top", "dx": 1},
 "encoding": {"x": {"datum": -0.5, "type": "quantitative"}, "y": {"datum": 90500, "type": "quantitative"}, "text": {"field": "t"}}},
{"data": {"name": "vlab"}, "mark": {"type": "text", "fontSize": 5.5, "color": "#000000", "align": "left", "baseline": "middle", "dx": 1},
 "encoding": {"x": {"datum": 135.8, "type": "quantitative"}, "y": {"field": "v", "type": "quantitative"}, "text": {"field": "t"}}}
]
},
{
"layer": [
{"data": {"name": "info"}, "mark": {"type": "rect"},
 "encoding": {"x": {"datum": 2.0, "type": "quantitative"}, "x2": {"datum": 21.6},
  "y": {"field": "r", "type": "ordinal", "scale": {"domain": [0,1,2,3,4,5,6,7,8,9,10,11,12,13,14,15,16,17,18,19,20,21,22], "range": [-14, 89.5], "paddingInner": 0, "paddingOuter": 0}, "axis": null},
  "fill": {"field": "k", "type": "nominal", "scale": {"domain": ["hdr","blk","cyan","mag","yel","mar","blu","grn","wht","olv"], "range": ["#00ff00","#000000","#00ffff","#ff00ff","#ffff00","#800000","#0000ff","#008000","#ffffff","#808000"]}, "legend": null}}},
{"data": {"name": "info"}, "transform": [{"filter": "datum.r >= 1 && datum.r <= 8"}], "mark": {"type": "text", "align": "right", "baseline": "middle", "fontSize": 4, "color": "#ffffff"},
 "encoding": {"x": {"datum": 21.1, "type": "quantitative"}, "y": {"field": "r", "type": "ordinal"}, "text": {"field": "t"}}},
{"data": {"name": "info"}, "transform": [{"filter": "datum.r == 0 || (datum.r >= 9 && datum.r <= 20)"}], "mark": {"type": "text", "align": "center", "baseline": "middle", "fontSize": 4},
 "encoding": {"x": {"datum": 11.8, "type": "quantitative"}, "y": {"field": "r", "type": "ordinal"}, "text": {"field": "t"},
  "color": {"field": "k", "type": "nominal", "scale": {"domain": ["hdr","blk","cyan","mag","yel","mar","blu","grn","wht","olv"], "range": ["#000000","#ffffff","#ffffff","#ffffff","#ffffff","#ffffff","#ffffff","#ffffff","#000000","#ffffff"]}, "legend": null}}},
{"data": {"name": "info"}, "transform": [{"filter": "datum.r >= 21"}], "mark": {"type": "text", "align": "left", "baseline": "middle", "fontSize": 4},
 "encoding": {"x": {"datum": 2.4, "type": "quantitative"}, "y": {"field": "r", "type": "ordinal"}, "text": {"field": "t"},
  "color": {"field": "k", "type": "nominal", "scale": {"domain": ["hdr","blk","cyan","mag","yel","mar","blu","grn","wht","olv"], "range": ["#000000","#ffffff","#ffffff","#ffffff","#ffffff","#ffffff","#ffffff","#ffffff","#000000","#ffffff"]}, "legend": null}}}
]
}
],
"resolve": {"scale": {"y": "independent", "color": "independent"}, "axis": {"y": "independent"}}
},
{
"width": 598, "height": 16,
"layer": [
{"data": {"name": "strip"}, "mark": {"type": "rect"},
 "encoding": {"x": {"field": "a", "type": "quantitative", "scale": {"domain": [-0.5, 135.5], "nice": false, "zero": false},
   "axis": {"orient": "bottom", "offset": -12, "values": [4.7, 28.7, 43.7, 58.7, 82.7, 106.7, 130.7], "tickCount": 20, "labelExpr": "datum.value < 10 ? '02/03' : datum.value < 35 ? '02/04' : datum.value < 50 ? '02/06' : datum.value < 70 ? '02/07' : datum.value < 95 ? '02/08' : datum.value < 120 ? '02/09' : '02/10'", "labelFontSize": 6, "labelColor": "#000000", "ticks": false, "domain": false, "grid": false, "labelPadding": 3, "labelOffset": 5, "title": null, "labelOverlap": false, "labelFlush": false}},
  "x2": {"field": "b"},
  "y": {"datum": 0.4, "type": "quantitative", "scale": {"domain": [0, 16], "reverse": true, "nice": false, "zero": false}, "axis": null},
  "y2": {"datum": 4},
  "fill": {"field": "k", "type": "nominal", "scale": {"domain": ["t", "m", "y", "w"], "range": ["#2a5252", "#7a1c1c", "#ffff66", "#e0e0e0"]}, "legend": null}}},
{"data": {"name": "rsi"}, "mark": {"type": "text", "fontSize": 4.6, "fontWeight": "bold", "color": "#000000", "align": "left", "baseline": "middle", "dx": 2},
 "encoding": {"x": {"datum": -0.5, "type": "quantitative"}, "y": {"datum": 5.8, "type": "quantitative"}, "text": {"field": "t"}}},
{"data": {"name": "rsiv"}, "mark": {"type": "rect", "color": "#ffffff"},
 "encoding": {"x": {"datum": 135.8, "type": "quantitative"}, "x2": {"datum": 141.6}, "y": {"datum": 0.8, "type": "quantitative"}, "y2": {"datum": 6.3}}},
{"data": {"name": "rsiv"}, "mark": {"type": "text", "fontSize": 5, "color": "#000000", "align": "left", "baseline": "middle", "dx": 0.5},
 "encoding": {"x": {"datum": 135.8, "type": "quantitative"}, "y": {"datum": 3.6, "type": "quantitative"}, "text": {"field": "t"}}}
]
},
{
"width": 625, "height": 8,
"view": {"fill": "#d4d0c8", "stroke": null},
"data": {"name": "status"},
"mark": {"type": "text", "align": "right", "baseline": "middle", "fontSize": 5.5, "color": "#000000", "dx": -3},
"encoding": {
"x": {"datum": 1, "type": "quantitative", "scale": {"domain": [0, 1]}, "axis": null},
"y": {"datum": 0.5, "type": "quantitative", "scale": {"domain": [0, 1]}, "axis": null},
"text": {"field": "t"}
}
}
]
}
